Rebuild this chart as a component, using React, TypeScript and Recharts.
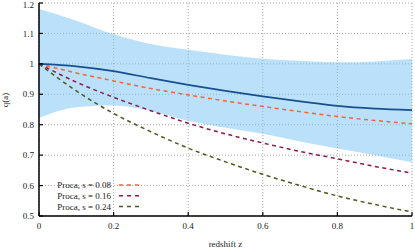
import {
  Area,
  CartesianGrid,
  ComposedChart,
  Line,
  XAxis,
  YAxis,
} from "recharts";

const redshift = [0, 0.1, 0.2, 0.3, 0.4, 0.5, 0.6, 0.7, 0.8, 0.9, 1.0];
const meanQ = [1.0, 0.992, 0.976, 0.953, 0.931, 0.911, 0.893, 0.877, 0.862, 0.853, 0.848];
const upperQ = [1.18, 1.142, 1.097, 1.065, 1.046, 1.03, 1.017, 1.01, 1.005, 1.008, 1.016];
const lowerQ = [0.822, 0.857, 0.863, 0.845, 0.813, 0.79, 0.77, 0.745, 0.722, 0.7, 0.677];
const procaS008 = [1.0, 0.97, 0.944, 0.919, 0.898, 0.878, 0.86, 0.843, 0.827, 0.814, 0.803];
const procaS016 = [1.0, 0.94, 0.89, 0.846, 0.805, 0.77, 0.74, 0.712, 0.688, 0.663, 0.641];
const procaS024 = [1.0, 0.911, 0.837, 0.777, 0.723, 0.678, 0.637, 0.6, 0.566, 0.538, 0.513];

const xTicks = [0, 0.2, 0.4, 0.6, 0.8, 1];
const yTicks = [0.5, 0.6, 0.7, 0.8, 0.9, 1, 1.1, 1.2];

const FONT = "'Liberation Serif', 'DejaVu Serif', serif";

const procaSeries = [
  { key: "s008", label: "Proca, s = 0.08", color: "#f2643c" },
  { key: "s016", label: "Proca, s = 0.16", color: "#8c1c4c" },
  { key: "s024", label: "Proca, s = 0.24", color: "#4b5a1e" },
];

const data = redshift.map((z, i) => ({
  z,
  band: [lowerQ[i], upperQ[i]],
  mean: meanQ[i],
  s008: procaS008[i],
  s016: procaS016[i],
  s024: procaS024[i],
}));

const tickStyle = { fontSize: 9, fill: "#222", fontFamily: FONT };
const frame = { stroke: "#000", strokeWidth: 1.5 };

// key box drawn in the lower-left corner of the plot
function ProcaKey() {
  return (
    <g fontFamily={FONT} fontSize={9} fill="#222">
      {procaSeries.map((s, i) => {
        const y = 185 + i * 10.8;
        return (
          <g key={s.key}>
            <text x={111} y={y} dy="0.35em" textAnchor="end">
              {s.label}
            </text>
            <line
              x1={119}
              x2={139}
              y1={y}
              y2={y}
              stroke={s.color}
              strokeWidth={1.5}
              strokeDasharray="4 4"
            />
          </g>
        );
      })}
    </g>
  );
}

export default function App() {
  return (
    <div style={{ position: "relative", width: 415, height: 250 }}>
      <style>{`body{margin:0}`}</style>
      <ComposedChart
        width={415}
        height={250}
        data={data}
        margin={{ top: 3, right: 3, left: 0, bottom: 0 }}
      >
        <CartesianGrid stroke="#a8a8a8" strokeDasharray="1 2" />
        <XAxis
          dataKey="z"
          type="number"
          domain={[0, 1]}
          ticks={xTicks}
          tickFormatter={(v) => String(v)}
          height={34}
          tick={tickStyle}
          tickSize={-4}
          tickMargin={11}
          tickLine={{ stroke: "#000", strokeWidth: 1.2 }}
          axisLine={frame}
          label={{
            value: "redshift z",
            position: "insideBottom",
            offset: 3,
            style: { fontSize: 9, fill: "#222", fontFamily: FONT },
          }}
        />
        <XAxis
          xAxisId="top"
          orientation="top"
          type="number"
          domain={[0, 1]}
          ticks={xTicks}
          height={0}
          tick={false}
          tickSize={-4}
          tickLine={{ stroke: "#000", strokeWidth: 1.2 }}
          axisLine={frame}
        />
        <YAxis
          type="number"
          domain={[0.5, 1.2]}
          ticks={yTicks}
          tickFormatter={(v) => String(v)}
          width={39}
          tick={tickStyle}
          tickSize={-4}
          tickMargin={9}
          tickLine={{ stroke: "#000", strokeWidth: 1.2 }}
          axisLine={frame}
          label={{
            content: ({ viewBox }: any) => (
              <text
                x={0}
                y={0}
                transform={`translate(${(viewBox?.x ?? 0) + 8}, 100) rotate(-90)`}
                textAnchor="middle"
                fontSize={9}
                fill="#222"
                fontFamily={FONT}
              >
                q(a)
              </text>
            ),
          }}
        />
        <YAxis
          yAxisId="right"
          orientation="right"
          type="number"
          domain={[0.5, 1.2]}
          ticks={yTicks}
          width={0}
          tick={false}
          tickSize={-4}
          tickLine={{ stroke: "#000", strokeWidth: 1.2 }}
          axisLine={frame}
        />
        <Area
          type="monotone"
          dataKey="band"
          stroke="none"
          fill="#77c3f5"
          fillOpacity={0.5}
          isAnimationActive={false}
        />
        {procaSeries.map((s) => (
          <Line
            key={s.key}
            type="monotone"
            dataKey={s.key}
            stroke={s.color}
            strokeWidth={1.5}
            strokeDasharray="4 3.5"
            dot={false}
            isAnimationActive={false}
          />
        ))}
        <Line
          type="monotone"
          dataKey="mean"
          stroke="#16508e"
          strokeWidth={1.7}
          dot={false}
          isAnimationActive={false}
        />
        <ProcaKey />
      </ComposedChart>
    </div>
  );
}
